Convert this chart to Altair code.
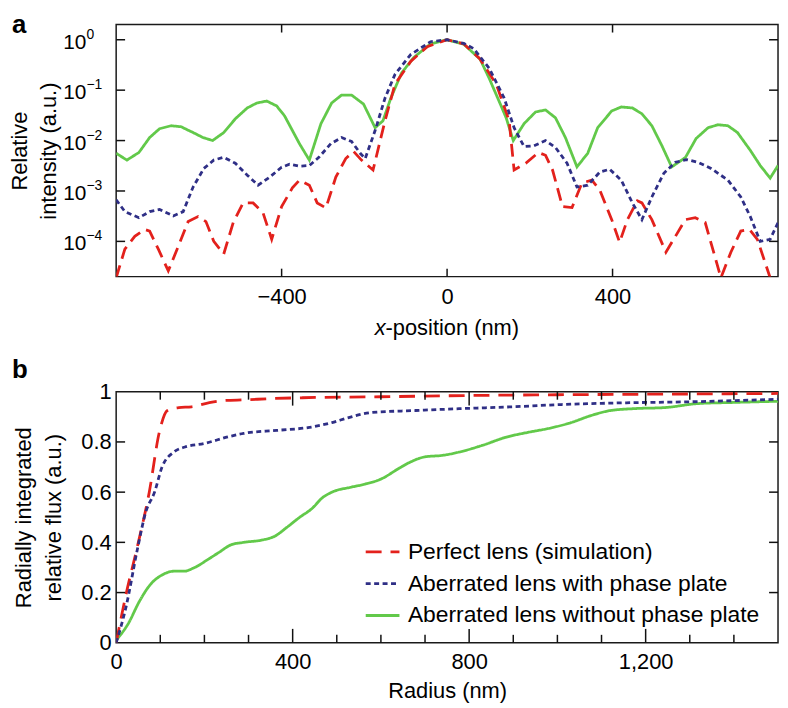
import altair as alt
import pandas as pd

FONT = "Liberation Sans"
SERIES = ["Perfect lens (simulation)",
          "Aberrated lens with phase plate",
          "Aberrated lens without phase plate"]
COLORS = ["#e3211c", "#2f2f86", "#62c94a"]

# ---------------- panel a : relative intensity vs x-position ----------------
red_x = [-800, -779, -755, -731, -719, -698, -674, -650, -626, -602, -583, -564, -540,
         -517, -493, -469, -445, -424, -400, -374, -357, -333, -314, -293, -269, -245,
         -226, -207, -179, -150, -126, -88, -48, 0, 40, 79, 119, 150, 162, 190, 221,
         238, 255, 279, 302, 326, 350, 369, 398, 417, 436, 460, 471, 495, 529, 552,
         576, 600, 624, 662, 686, 710, 731, 750, 781, 800]
red_y = [1.9e-5, 7.0e-5, 1.26e-4, 1.72e-4, 1.6e-4, 7.0e-5, 2.6e-5, 7.9e-5, 2.47e-4,
         3.1e-4, 2.47e-4, 1.0e-4, 5.6e-5, 2.36e-4, 5.8e-4, 5.8e-4, 3.7e-4, 1.1e-4,
         4.9e-4, 1.15e-3, 1.64e-3, 1.3e-3, 5.8e-4, 4.6e-4, 1.88e-3, 4.4e-3, 6.1e-3,
         4.1e-3, 2.6e-3, 0.0247, 0.131, 0.37, 0.73, 1.0, 0.83, 0.42, 0.131, 0.0247,
         2.6e-3, 3.55e-3, 5.8e-3, 5.1e-3, 2.6e-3, 4.9e-4, 4.7e-4, 1.44e-3, 1.64e-3,
         1.05e-3, 2.7e-4, 9.6e-5, 2.7e-4, 6.4e-4, 5.8e-4, 2.7e-4, 6.1e-5, 1.26e-4,
         2.7e-4, 2.95e-4, 2.36e-4, 1.9e-5, 6.1e-5, 1.6e-4, 1.72e-4, 1.1e-4, 1.9e-5,
         8e-6]

blue_x = [-800, -779, -745, -719, -695, -662, -638, -614, -588, -564, -540, -512, -483,
          -457, -429, -400, -381, -357, -333, -310, -281, -255, -231, -210, -198, -174,
          -150, -126, -88, -40, 0, 40, 64, 102, 138, 162, 186, 210, 238, 262, 290, 314,
          340, 369, 393, 421, 448, 471, 495, 524, 552, 579, 607, 638, 679, 710, 733,
          757, 781, 800]
blue_y = [6.7e-4, 3.9e-4, 2.95e-4, 3.9e-4, 4.3e-4, 3.2e-4, 3.9e-4, 1.2e-3, 2.8e-3,
          4.1e-3, 4.65e-3, 3.55e-3, 2.06e-3, 1.3e-3, 1.88e-3, 2.96e-3, 3.39e-3, 3.1e-3,
          3.2e-3, 4.65e-3, 8.7e-3, 0.0115, 9.6e-3, 5.6e-3, 4.4e-3, 0.0158, 0.0697,
          0.206, 0.508, 0.914, 1.0, 0.85, 0.67, 0.27, 0.0697, 0.018, 7.6e-3, 7.9e-3,
          0.0100, 7.3e-3, 3.55e-3, 1.2e-3, 1.3e-3, 2.36e-3, 2.7e-3, 1.64e-3, 5.8e-4,
          2.7e-4, 7.6e-4, 2.25e-3, 3.7e-3, 4.2e-3, 3.7e-3, 2.8e-3, 1.64e-3, 7.6e-4,
          3.1e-4, 1.0e-4, 1.1e-4, 2.35e-4]

green_x = [-800, -774, -745, -719, -695, -667, -643, -614, -590, -567, -540, -512, -483,
           -460, -436, -412, -393, -357, -333, -305, -279, -255, -231, -202, -174, -155,
           -136, -110, -80, -40, 0, 40, 80, 102, 130, 143, 160, 186, 214, 238, 262, 286,
           314, 340, 364, 398, 421, 448, 471, 495, 519, 543, 576, 602, 631, 655, 679,
           702, 733, 757, 781, 800]
green_y = [0.0056, 0.0041, 0.0058, 0.0115, 0.0172, 0.0197, 0.0188, 0.0144, 0.0115,
           0.0100, 0.0144, 0.027, 0.0444, 0.0556, 0.0608, 0.0486, 0.031, 0.0087, 0.0041,
           0.0216, 0.0556, 0.080, 0.080, 0.053, 0.018, 0.0247, 0.0697, 0.22, 0.45, 0.83,
           1.0, 0.82, 0.41, 0.17, 0.05, 0.028, 0.0100, 0.0216, 0.037, 0.0405, 0.0283,
           0.0115, 0.0030, 0.0056, 0.018, 0.0387, 0.0464, 0.0444, 0.0339, 0.0197, 0.0080,
           0.0030, 0.0046, 0.011, 0.018, 0.0206, 0.0197, 0.0144, 0.0064, 0.0032, 0.0018,
           0.0032]

top_xticks = [-400, 0, 400]
top_yticks = [1, 0.1, 0.01, 0.001, 0.0001]
top_yexp = ["0", "\u22121", "\u22122", "\u22123", "\u22124"]

# ---------------- panel b : radially integrated flux vs radius ----------------
red_r = [0, 22, 49, 75, 98, 116, 142, 171, 209, 238, 298, 342, 422, 600, 800, 1000,
         1200, 1500]
red_f = [0.0, 0.19, 0.39, 0.60, 0.84, 0.925, 0.937, 0.94, 0.956, 0.964, 0.968, 0.972,
         0.976, 0.98, 0.985, 0.988, 0.99, 0.993]

blue_r = [0, 22, 49, 67, 87, 104, 131, 156, 200, 253, 289, 364, 438, 489, 527, 578, 676,
          787, 898, 1009, 1156, 1304, 1500]
blue_f = [0.0, 0.14, 0.38, 0.52, 0.60, 0.70, 0.76, 0.78, 0.794, 0.82, 0.834, 0.846,
          0.858, 0.877, 0.897, 0.917, 0.925, 0.933, 0.94, 0.949, 0.956, 0.96, 0.97]

green_r = [0, 27, 53, 78, 104, 131, 153, 178, 209, 233, 260, 289, 333, 360, 387, 416,
           444, 467, 489, 533, 564, 600, 642, 667, 698, 742, 778, 831, 882, 933, 978,
           1031, 1076, 1120, 1178, 1244, 1320, 1393, 1500]
green_f = [0.01, 0.075, 0.166, 0.233, 0.27, 0.285, 0.285, 0.30, 0.333, 0.36, 0.39, 0.40,
           0.41, 0.425, 0.46, 0.50, 0.535, 0.577, 0.60, 0.62, 0.632, 0.652, 0.696, 0.72,
           0.74, 0.747, 0.76, 0.787, 0.818, 0.838, 0.853, 0.877, 0.905, 0.925, 0.933,
           0.937, 0.953, 0.957, 0.962]

bot_xlabels = [0, 400, 800, 1200]
bot_ylabels = [0, 0.2, 0.4, 0.6, 0.8, 1]
bot_xmajor = [400, 800, 1200]
bot_xminor = [100, 200, 300, 500, 600, 700, 900, 1000, 1100, 1300, 1400]
bot_yticks = [0.2, 0.4, 0.6, 0.8]

# ---------------- build tables ----------------
def long(xs, ys, name, xn, yn):
    return pd.DataFrame({xn: xs, yn: ys, "series": name})

df_top = pd.concat([long(green_x, green_y, SERIES[2], "x", "y"),
                    long(red_x, red_y, SERIES[0], "x", "y"),
                    long(blue_x, blue_y, SERIES[1], "x", "y")], ignore_index=True)
df_bot = pd.concat([long(green_r, green_f, SERIES[2], "r", "f"),
                    long(red_r, red_f, SERIES[0], "r", "f"),
                    long(blue_r, blue_f, SERIES[1], "r", "f")], ignore_index=True)

W, H1, H2 = 667, 254, 253
LEFT = 105
TICK = dict(color="#111111", strokeWidth=1.5)

color_scale = alt.Scale(domain=SERIES, range=COLORS)
width_scale = alt.Scale(domain=SERIES, range=[2.8, 2.8, 2.2])

# ---------------- top panel ----------------
xs_t = alt.Scale(domain=[-800, 800], nice=False, zero=False)
ys_t = alt.Scale(type="log", domain=[2e-5, 2], nice=False)
ax_tx = alt.Axis(values=top_xticks, title=None, ticks=False, tickSize=0, domain=False,
                 grid=False, labelFontSize=22, labelPadding=10, labelFlush=False)
ax_ty = alt.Axis(values=top_yticks, labels=False, ticks=False, tickSize=0, domain=False,
                 grid=False, title=["Relative", "intensity (a.u.)"], titleFontSize=22,
                 titleFontWeight="normal", titlePadding=56, titleLineHeight=29)

lines_t = alt.Chart(df_top).mark_line(clip=True).encode(
    x=alt.X("x:Q", scale=xs_t, axis=ax_tx),
    y=alt.Y("y:Q", scale=ys_t, axis=ax_ty),
    color=alt.Color("series:N", scale=color_scale, legend=None),
    strokeDash=alt.StrokeDash("series:N", legend=None,
                              scale=alt.Scale(domain=SERIES, range=[[13, 7], [5, 3.5], [1, 0]])),
    strokeWidth=alt.StrokeWidth("series:N", scale=width_scale, legend=None),
)

ytk = pd.DataFrame({"x": [0] * len(top_yticks), "y": top_yticks, "e": top_yexp})
xtk = pd.DataFrame({"x": top_xticks, "y": [1] * len(top_xticks)})
yenc = alt.Y("y:Q", scale=ys_t, axis=ax_ty)
xenc = alt.X("x:Q", scale=xs_t, axis=ax_tx)

t_layers = [
    lines_t,
    alt.Chart(ytk).mark_rule(**TICK).encode(y=yenc, x=alt.value(0), x2=alt.value(9)),
    alt.Chart(ytk).mark_rule(**TICK).encode(y=yenc, x=alt.value(W - 9), x2=alt.value(W)),
    alt.Chart(xtk).mark_rule(**TICK).encode(x=xenc, y=alt.value(H1 - 8), y2=alt.value(H1)),
    alt.Chart(xtk).mark_rule(**TICK).encode(x=xenc, y=alt.value(0), y2=alt.value(8)),
    alt.Chart(ytk).mark_text(align="right", baseline="middle", fontSize=21, dy=3,
                             color="black").encode(y=yenc, x=alt.value(-30), text=alt.value("10")),
    alt.Chart(ytk).mark_text(align="left", baseline="middle", fontSize=14, dy=-5,
                             color="black").encode(y=yenc, x=alt.value(-30), text="e:N"),
    alt.Chart(pd.DataFrame({"t": ["x"]})).mark_text(
        align="right", baseline="alphabetic", fontSize=22, fontStyle="italic", color="black"
    ).encode(x=alt.value(W / 2 - 62), y=alt.value(H1 + 59), text="t:N"),
    alt.Chart(pd.DataFrame({"t": ["-position (nm)"]})).mark_text(
        align="left", baseline="alphabetic", fontSize=22, color="black"
    ).encode(x=alt.value(W / 2 - 62), y=alt.value(H1 + 59), text="t:N"),
    alt.Chart(pd.DataFrame({"t": ["a"]})).mark_text(
        align="left", baseline="alphabetic", fontSize=26, fontWeight="bold", color="black"
    ).encode(x=alt.value(-LEFT), y=alt.value(8), text="t:N"),
]
top = alt.layer(*t_layers).properties(width=W, height=H1)

# ---------------- bottom panel ----------------
xs_b = alt.Scale(domain=[0, 1500], nice=False, zero=False)
ys_b = alt.Scale(domain=[0, 1], nice=False)
ax_bx = alt.Axis(values=bot_xlabels, format=",.0f", title="Radius (nm)", ticks=False,
                 tickSize=0, domain=False, grid=False, labelFontSize=22, labelPadding=9,
                 labelFlush=False, titleFontSize=22, titleFontWeight="normal",
                 titlePadding=8)
ax_by = alt.Axis(values=bot_ylabels, format="~g",
                 title=["Radially integrated", "relative flux (a.u.)"], ticks=False,
                 tickSize=0, domain=False, grid=False, labelFontSize=22, labelPadding=5,
                 labelFlush=False, titleFontSize=22, titleFontWeight="normal",
                 titlePadding=16, titleLineHeight=30)

legend = alt.Legend(orient="none", legendX=250, legendY=143, title=None,
                    symbolType="stroke", symbolSize=1156, symbolStrokeWidth=2.8,
                    labelFontSize=23, labelOffset=7, rowPadding=1, padding=0,
                    labelLimit=600)

lines_b = alt.Chart(df_bot).mark_line(clip=True, interpolate="monotone").encode(
    x=alt.X("r:Q", scale=xs_b, axis=ax_bx),
    y=alt.Y("f:Q", scale=ys_b, axis=ax_by),
    color=alt.Color("series:N", scale=color_scale, legend=legend),
    strokeDash=alt.StrokeDash("series:N", legend=legend,
                              scale=alt.Scale(domain=SERIES, range=[[16, 9], [5, 3.5], [1, 0]])),
    strokeWidth=alt.StrokeWidth("series:N", scale=width_scale, legend=None),
)

bxm = pd.DataFrame({"r": bot_xmajor})
bxn = pd.DataFrame({"r": bot_xminor})
byt = pd.DataFrame({"f": bot_yticks})
bx = alt.X("r:Q", scale=xs_b, axis=ax_bx)
by = alt.Y("f:Q", scale=ys_b, axis=ax_by)

b_layers = [
    lines_b,
    alt.Chart(bxm).mark_rule(**TICK).encode(x=bx, y=alt.value(H2 - 14), y2=alt.value(H2)),
    alt.Chart(bxm).mark_rule(**TICK).encode(x=bx, y=alt.value(0), y2=alt.value(14)),
    alt.Chart(bxn).mark_rule(**TICK).encode(x=bx, y=alt.value(H2 - 8), y2=alt.value(H2)),
    alt.Chart(bxn).mark_rule(**TICK).encode(x=bx, y=alt.value(0), y2=alt.value(8)),
    alt.Chart(byt).mark_rule(**TICK).encode(y=by, x=alt.value(0), x2=alt.value(9)),
    alt.Chart(byt).mark_rule(**TICK).encode(y=by, x=alt.value(W - 9), x2=alt.value(W)),
    alt.Chart(pd.DataFrame({"t": ["b"]})).mark_text(
        align="left", baseline="alphabetic", fontSize=26, fontWeight="bold", color="black"
    ).encode(x=alt.value(-LEFT), y=alt.value(-14), text="t:N"),
]
bottom = alt.layer(*b_layers).properties(width=W, height=H2)

chart = alt.vconcat(top, bottom, spacing=16).resolve_scale(
    color="independent", strokeDash="independent", strokeWidth="independent"
).properties(padding=0, background="white").configure_view(
    stroke="#1a1a1a", strokeWidth=1.5
).configure_axis(
    labelFont=FONT, titleFont=FONT, labelColor="black", titleColor="black"
).configure_text(font=FONT).configure_legend(labelFont=FONT, labelColor="black")

chart.save("out.html", embed_options={"renderer": "svg", "actions": False})
